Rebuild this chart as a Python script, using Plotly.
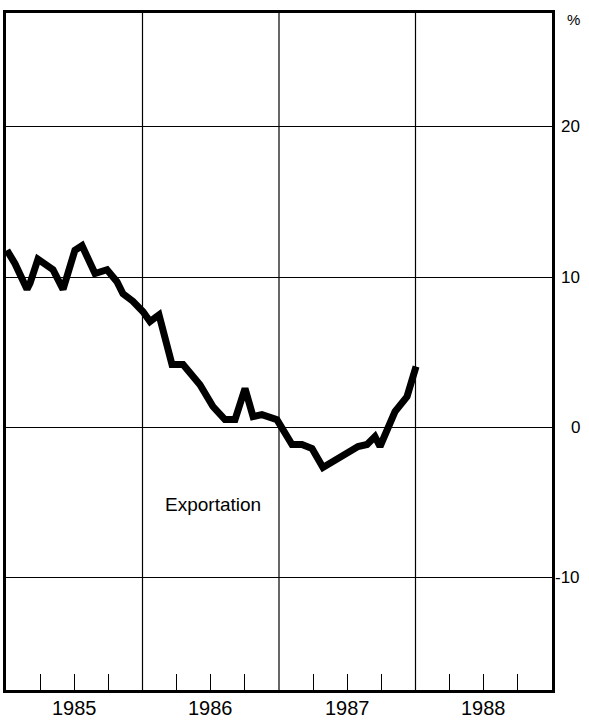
import plotly.graph_objects as go

# Decimal-year positions of the series vertices and values (%)
dates = [1985.007, 1985.066, 1985.154, 1985.176, 1985.234, 1985.344, 1985.418,
         1985.505, 1985.557, 1985.652, 1985.740, 1985.813, 1985.857, 1985.930,
         1986.004, 1986.055, 1986.121, 1986.216, 1986.297, 1986.421, 1986.516,
         1986.604, 1986.678, 1986.751, 1986.810, 1986.875, 1986.985, 1987.095,
         1987.168, 1987.242, 1987.322, 1987.425, 1987.520, 1987.579, 1987.645,
         1987.703, 1987.740, 1987.850, 1987.938, 1988.004]
exportation = [11.8, 10.9, 9.2, 9.6, 11.2, 10.5, 9.2,
               11.8, 12.1, 10.25, 10.5, 9.7, 8.9, 8.4,
               7.7, 7.05, 7.5, 4.2, 4.2, 2.85, 1.4,
               0.53, 0.53, 2.6, 0.73, 0.86, 0.53, -1.13,
               -1.13, -1.4, -2.66, -2.13, -1.6, -1.26, -1.13,
               -0.6, -1.26, 1.06, 2.06, 4.06]

year_labels = ["1985", "1986", "1987", "1988"]
year_pos = [1985.5, 1986.5, 1987.5, 1988.5]
year_bounds = [1986, 1987, 1988]
quarter_ticks = [1985.25, 1985.5, 1985.75, 1986.25, 1986.5, 1986.75,
                 1987.25, 1987.5, 1987.75, 1988.25, 1988.5, 1988.75]
y_ticks = [-10, 0, 10, 20]
y_tick_labels = ["-10", "0", "10", "20"]

FONT = "Liberation Sans, Arial, Helvetica, sans-serif"

fig = go.Figure()
fig.add_trace(go.Scatter(
    x=dates, y=exportation, mode="lines",
    line=dict(color="black", width=7, shape="linear"),
    hoverinfo="skip", showlegend=False,
))

for xb in year_bounds:
    fig.add_shape(type="line", xref="x", yref="paper", x0=xb, x1=xb, y0=0, y1=1,
                  line=dict(color="black", width=1.2), layer="below")

# year labels below the axis
for xp, lab in zip(year_pos, year_labels):
    fig.add_annotation(x=xp, y=0, xref="x", yref="paper", text=lab,
                       showarrow=False, xanchor="center", yanchor="middle",
                       yshift=-18, font=dict(family=FONT, size=20, color="black"))

# right-aligned value labels
for yv, lab in zip(y_ticks, y_tick_labels):
    fig.add_annotation(x=1, y=yv, xref="paper", yref="y", text=lab,
                       showarrow=False, xanchor="right", yanchor="middle",
                       xshift=30, font=dict(family=FONT, size=17, color="black"))

fig.add_annotation(x=1986.516, y=-5.1, xref="x", yref="y", text="Exportation",
                   showarrow=False, font=dict(family=FONT, size=19, color="black"))
fig.add_annotation(x=1, y=1, xref="paper", yref="paper", text="%",
                   showarrow=False, xanchor="right", yanchor="middle",
                   xshift=30, yshift=-6,
                   font=dict(family=FONT, size=15, color="black"))

fig.update_layout(
    width=589, height=725,
    margin=dict(l=6, r=37, t=13, b=35),
    paper_bgcolor="white", plot_bgcolor="white",
    font=dict(family=FONT, color="black"),
    xaxis=dict(
        range=[1985, 1989], automargin=False,
        showticklabels=False,
        ticks="", showgrid=False, zeroline=False,
        showline=True, linecolor="black", linewidth=2.5, mirror=True,
        minor=dict(tickvals=quarter_ticks, ticks="inside", ticklen=16,
                   tickcolor="black", tickwidth=1.2, showgrid=False),
    ),
    yaxis=dict(
        range=[-17.46, 27.58], automargin=False,
        side="right", showticklabels=False,
        tickvals=y_ticks,
        ticks="", showgrid=True, gridcolor="black", gridwidth=1.2,
        zeroline=False,
        showline=True, linecolor="black", linewidth=2.5, mirror=True,
    ),
)

fig.write_html("out.html", config={"displayModeBar": False},
               post_script="document.body.style.margin='0';")
